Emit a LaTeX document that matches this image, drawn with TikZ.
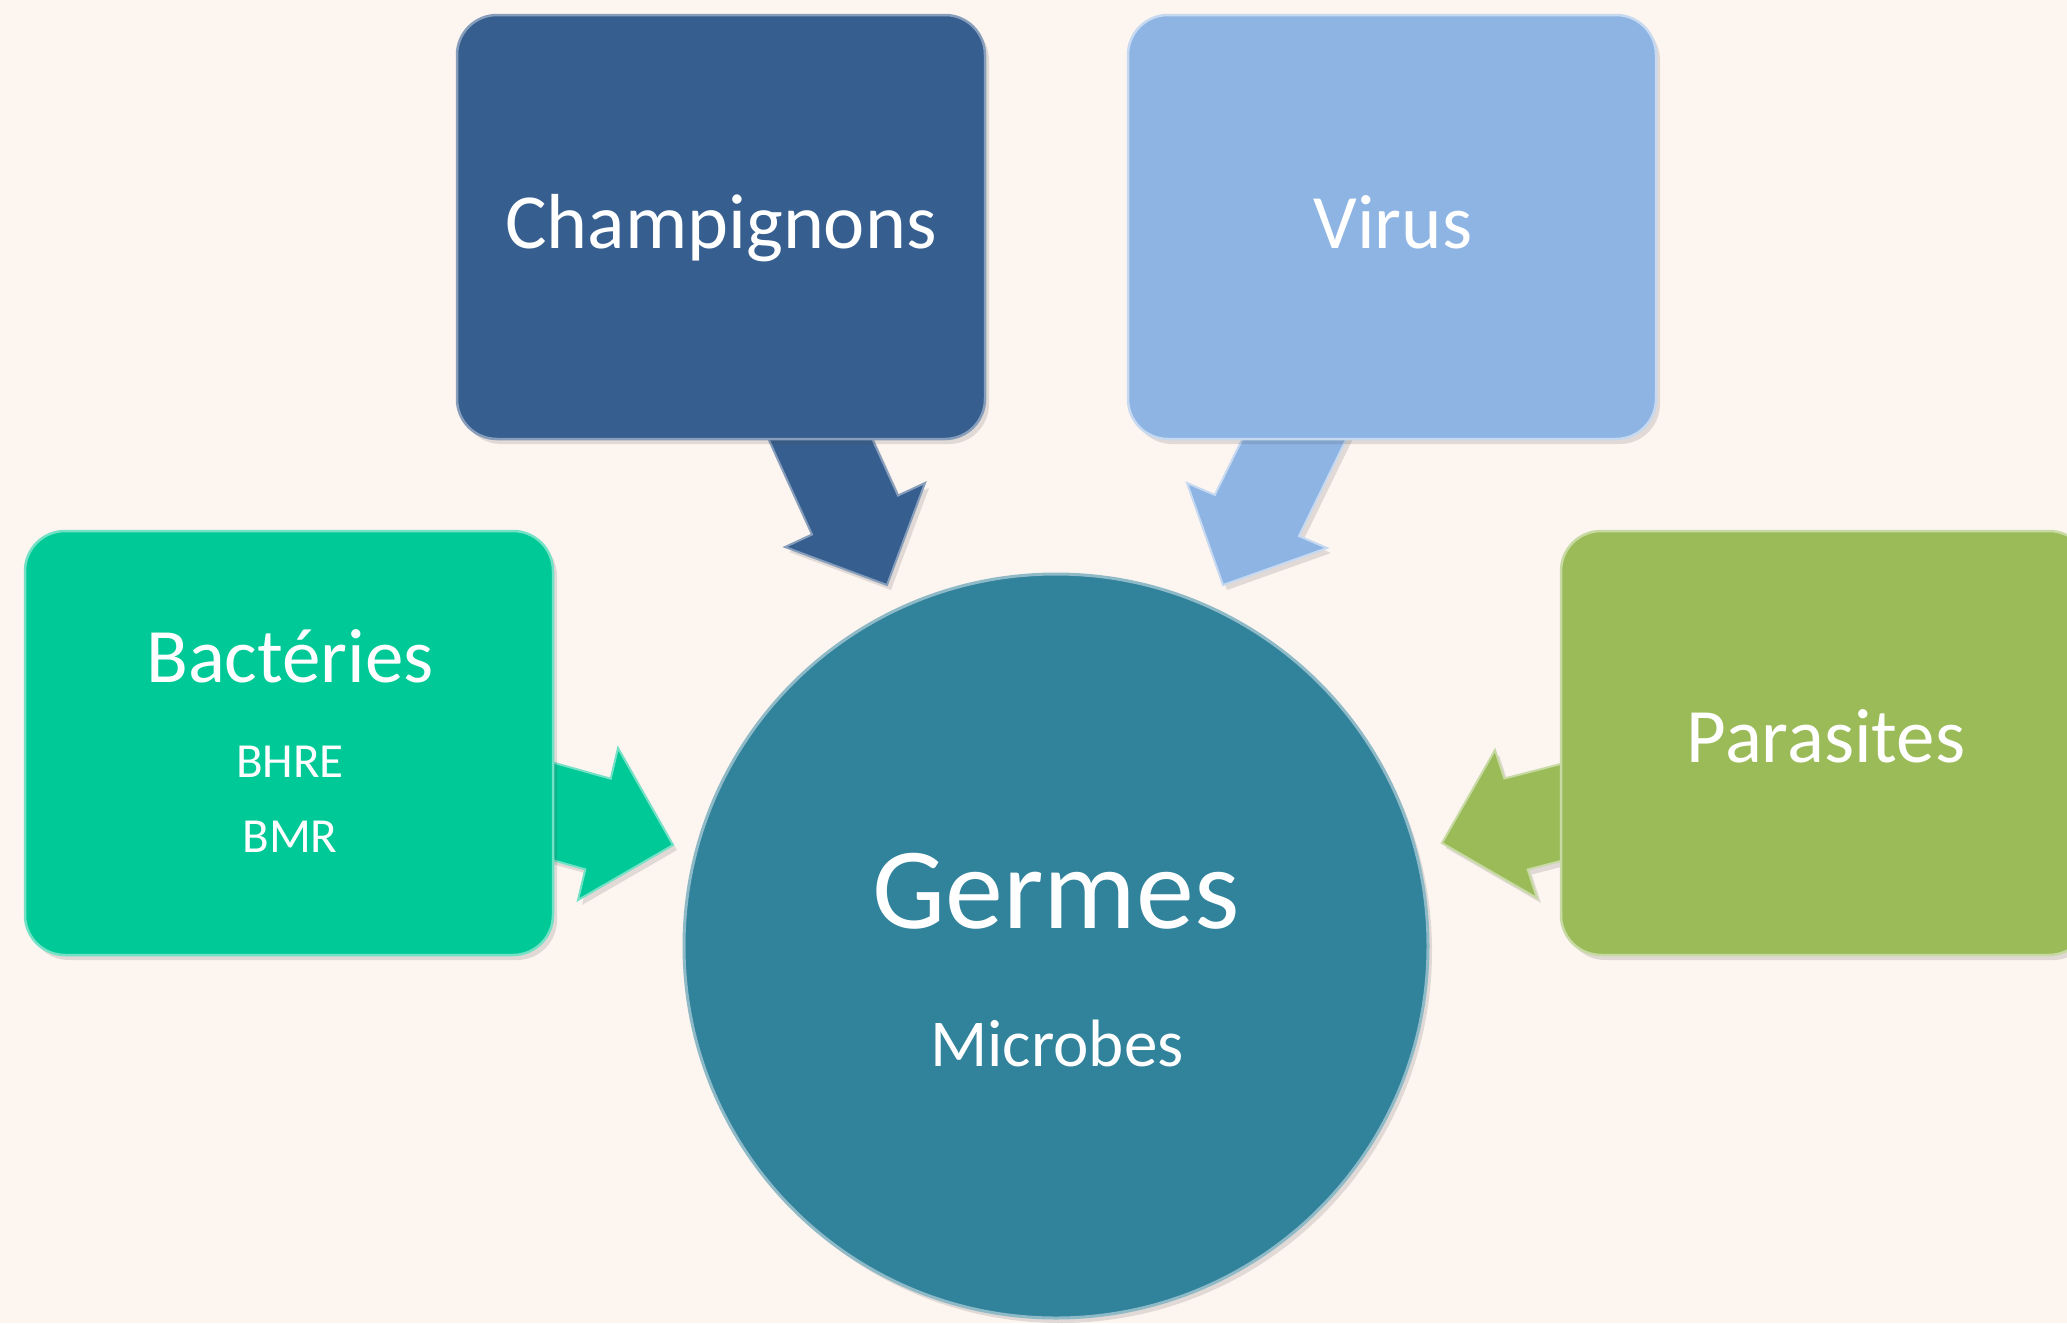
\documentclass[tikz,border=0pt]{standalone}
\usepackage{fontspec}
\setmainfont{Carlito}
\usetikzlibrary{shadows}
\definecolor{bg}{RGB}{253,245,240}
\definecolor{champc}{RGB}{54,94,142}
\definecolor{virc}{RGB}{142,180,227}
\definecolor{bacc}{RGB}{0,201,152}
\definecolor{parc}{RGB}{155,187,89}
\definecolor{germc}{RGB}{49,130,155}
\begin{document}
\begin{tikzpicture}[x=1pt,y=-1pt,
  shad/.style={drop shadow={shadow xshift=4pt, shadow yshift=-5pt, opacity=.16, fill=black!70}},
  boxs/.style={rounded corners=40pt, minimum width=528pt, minimum height=424pt, inner sep=0pt, line width=2.5pt, shad},
  lbl/.style={text=white, anchor=base, inner sep=0pt},
  big/.style={font=\fontsize{77}{80}\selectfont},
  small/.style={font=\fontsize{49}{52}\selectfont},
  blk/.style={line width=2pt, line join=miter, shad}]
\useasboundingbox (0,0) rectangle (2067,1323);
\fill[bg] (0,0) rectangle (2067,1323);
\clip (0,0) rectangle (2067,1323);

% block arrows
\draw[blk, fill=champc, draw=champc!60!white]
  (759.8,420) -- (863.6,420) -- (898,495.5) -- (925,483) -- (887,585)
  -- (785,547) -- (812,534.5) -- cycle;
\draw[blk, fill=virc, draw=virc!50!white]
  (1251.7,420) -- (1355.7,420) -- (1299,536) -- (1327,548) -- (1223,585)
  -- (1187,483) -- (1214.8,494.9) -- cycle;
\draw[blk, fill=bacc, draw=bacc!55!white]
  (540,758.9) -- (610.7,778.7) -- (618,748) -- (673,845) -- (578,900)
  -- (585.3,869.3) -- (540,856.6) -- cycle;
\draw[blk, fill=parc, draw=parc!55!white]
  (1600,753.9) -- (1504.3,778.5) -- (1495,750) -- (1442,843) -- (1537,898)
  -- (1527.7,869.5) -- (1600,850.9) -- cycle;

% boxes
\node[boxs, fill=champc, draw=champc!60!white] (champ) at (721,227) {};
\node[boxs, fill=virc, draw=virc!50!white] (virus) at (1392,227) {};
\node[boxs, fill=bacc, draw=bacc!55!white] (bact) at (289,743) {};
\node[boxs, fill=parc, draw=parc!55!white] (para) at (1825,743) {};

% circle
\node[circle, minimum size=744pt, inner sep=0pt, fill=germc, draw=germc!55!white, line width=3pt, shad] (germ) at (1056,946) {};

% labels
\node[lbl, font=\fontsize{78}{80}\selectfont] (tchamp) at (721,248) {Champignons};
\node[lbl, big] (tvir) at (1393,248) {Virus};
\node[lbl, big] (tbact) at (290,682) {Bactéries};
\node[lbl, small] (tbhre) at (290,777) {BHRE};
\node[lbl, small] (tbmr) at (290,852) {BMR};
\node[lbl, big] (tpara) at (1826,762) {Parasites};
\node[lbl, font=\fontsize{116}{120}\selectfont] (tgerm) at (1056,928) {Germes};
\node[lbl, font=\fontsize{67}{70}\selectfont] (tmic) at (1057,1066) {Microbes};
\end{tikzpicture}
\end{document}
